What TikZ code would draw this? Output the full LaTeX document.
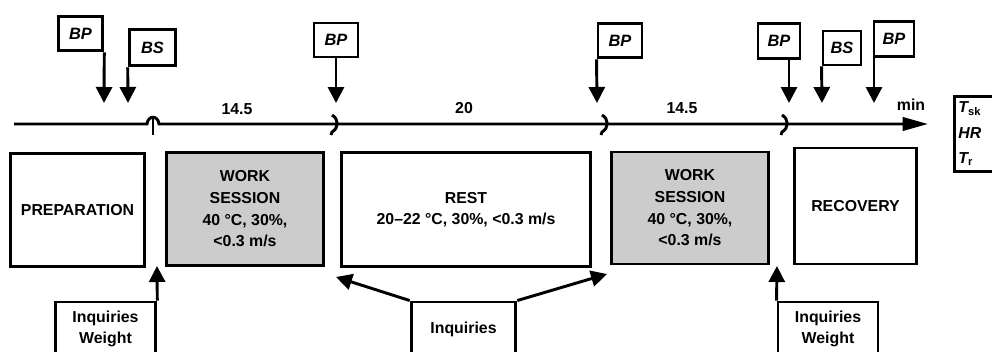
\documentclass[tikz,border=0pt]{standalone}
\usepackage{fontspec}
\setmainfont{Liberation Sans}
\usetikzlibrary{arrows.meta}
\begin{document}
\begin{tikzpicture}[x=0.75pt,y=-0.75pt, line width=2.2pt,
  every node/.style={font=\fontsize{11.9}{16.2}\selectfont\bfseries},
  box/.style={draw, line width=2.2pt, align=center, inner sep=0pt},
  tag/.style={box, font=\fontsize{12.3}{14}\selectfont\bfseries\itshape},
  graybox/.style={box, fill=gray!40},
  arr/.style={-{Triangle[width=12pt,length=12pt]}, line width=2.2pt},
  bigarr/.style={-{Triangle[width=10pt,length=19pt]}, line width=2.2pt},
  brk/.style={line width=2.2pt}
  ]
\useasboundingbox (0,0) rectangle (992,351);

% top tags
\node[tag, minimum width=33.5pt, minimum height=26pt] (bp1) at (80.5,33.5) {BP};
\node[tag, minimum width=35pt, minimum height=27.5pt] (bs1) at (152.5,47.5) {BS};
\node[tag, minimum width=33pt, minimum height=25.5pt] (bp2) at (336,40) {BP};
\node[tag, minimum width=33pt, minimum height=26pt] (bp3) at (620,40.5) {BP};
\node[tag, minimum width=31.5pt, minimum height=26.5pt] (bp4) at (779,41) {BP};
\node[tag, minimum width=28.5pt, minimum height=25.5pt] (bs2) at (842,48) {BS};
\node[tag, minimum width=30pt, minimum height=26.5pt] (bp5) at (894,39) {BP};

% arrow tips on the time line
\coordinate (t1) at (104,103);
\coordinate (t2) at (128,103);
\coordinate (t3) at (336,103);
\coordinate (t4) at (597,103);
\coordinate (t5) at (789,103);
\coordinate (t6) at (822,103);
\coordinate (t7) at (874,103);

\draw[arr] (bp1.south east) -- (t1);
\draw[arr] (bs1.south west) -- (t2);
\draw[arr] (bp2.south) -- (t3);
\draw[arr] (bp3.south west) -- (t4);
\draw[arr] (bp4.south -| t5) -- (t5);
\draw[arr] (bs2.south west) -- (t6);
\draw[arr] (bp5.south west -| t7) -- (t7);

% time line
\coordinate (tlstart) at (14,124);
\coordinate (tlend) at (928,124);
\draw[bigarr] (tlstart) -- (147,124) .. controls (148,115) and (158,115) .. (159,124) -- (tlend);
\draw[brk] (153,117) -- (153,135);
\draw[brk] (332,115) .. controls (339,119) and (339,128) .. (332,132) -- (331,135);
\draw[brk] (602,115) .. controls (609,119) and (609,128) .. (602,132) -- (601,135);
\draw[brk] (782,115) .. controls (789,119) and (789,128) .. (782,132) -- (781,135);

\node (d1) at (237,109) {14.5};
\node (d2) at (464,108) {20};
\node (d3) at (682,108) {14.5};
\node (mn) at (911,105) {min};

% side box
\node[draw, line width=2.2pt, anchor=north west, inner xsep=3pt, inner ysep=4pt,
      text width=37pt, align=left, font=\fontsize{11.9}{19}\selectfont\bfseries]
  (side) at (953,95) {{\itshape T}\textsubscript{sk}\\{\itshape HR}\\{\itshape T}\textsubscript{r}};

% phases
\node[box, minimum width=100pt, minimum height=85pt] (prep) at (77.5,210) {PREPARATION};
\node[graybox, minimum width=118pt, minimum height=85pt] (work1) at (245,209) {WORK\\SESSION\\40 °C, 30\%,\\<0.3 m/s};
\node[box, minimum width=187pt, minimum height=85.5pt] (rest) at (466,209.5) {REST\\20–22 °C, 30\%, <0.3 m/s};
\node[graybox, minimum width=118pt, minimum height=84pt] (work2) at (690,208) {WORK\\SESSION\\40 °C, 30\%,\\<0.3 m/s};
\node[box, minimum width=92pt, minimum height=87pt] (recov) at (855.5,206) {RECOVERY};

% bottom boxes
\node[box, minimum width=75.5pt, minimum height=40.5pt] (ib1) at (105.5,329) {Inquiries\\Weight};
\node[box, minimum width=78.5pt, minimum height=40.5pt] (ib2) at (463.5,329) {Inquiries};
\node[box, minimum width=75pt, minimum height=40.5pt] (ib3) at (828,329) {Inquiries\\Weight};

\coordinate (u1) at (157,266);
\coordinate (u2) at (336,277);
\coordinate (u3) at (607,274);
\coordinate (u4) at (777,266);

\draw[arr] (ib1.north east) -- (u1);
\draw[arr] (ib2.north west) -- (u2);
\draw[arr] (ib2.north east) -- (u3);
\draw[arr] (ib3.north west) -- (u4);
\end{tikzpicture}
\end{document}
